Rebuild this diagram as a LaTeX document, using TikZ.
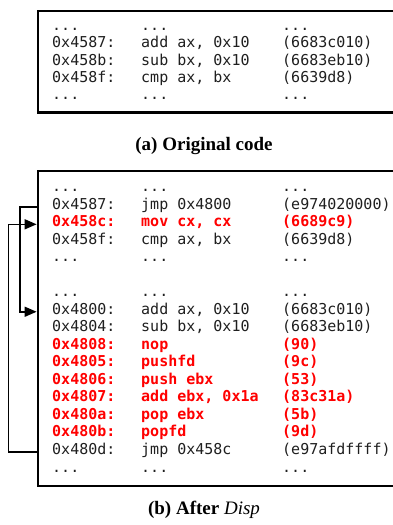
\documentclass[tikz,border=0pt]{standalone}
\usepackage{fontspec}
\setmainfont{Liberation Serif}
\setmonofont{DejaVu Sans Mono}
\usetikzlibrary{arrows.meta}

\tikzset{
    asm/.style={anchor=base west,inner sep=0pt,text=black!88,font=\fontsize{15}{17}\selectfont\ttfamily},
    patch/.style={asm,text=red,font=\fontsize{15}{17}\selectfont\ttfamily\bfseries},
    frame/.style={line width=2.2pt},
    jump/.style={line width=1.6pt,shorten >=1.1pt,-{Triangle[length=12pt,width=10pt]}},
    subcap/.style={anchor=base,inner sep=0pt,font=\fontsize{19}{21}\selectfont\bfseries}
}

\begin{document}
\begin{tikzpicture}[x=1pt,y=-1pt]
        \useasboundingbox (0,0) rectangle (393,525);
        % (a) original code
        \draw[frame] (400,10.7) -- (38,10.7) -- (38,112.5) -- (400,112.5);
        \foreach \n/\y/\ad/\op/\hx in {
            a0/30.5/{...}/{...}/{...},
            a1/47.75/{0x4587:}/{add ax, 0x10}/{(6683c010)},
            a2/65/{0x458b:}/{sub bx, 0x10}/{(6683eb10)},
            a3/82.25/{0x458f:}/{cmp ax, bx}/{(6639d8)},
            a4/99.5/{...}/{...}/{...}}
        {
            \node[asm] (\n) at (52,\y) {\ad};
            \node[asm] (\n op) at (141,\y) {\op};
            \node[asm] (\n hx) at (282,\y) {\hx};
        }
        \node[subcap] (capa) at (204,150) {(a) Original code};

        % (b) after Disp
        \draw[frame] (400,170.7) -- (37.7,170.7) -- (37.7,485.7) -- (400,485.7);
        \coordinate (edgeb) at (37.7,0);
        \foreach \n/\y/\ad/\op/\hx in {
            b0/191.5/{...}/{...}/{...},
            b1/209.05/{0x4587:}/{jmp 0x4800}/{(e974020000)},
            b3/244.15/{0x458f:}/{cmp ax, bx}/{(6639d8)},
            b4/261.7/{...}/{...}/{...},
            b5/296.5/{...}/{...}/{...},
            b6/314.05/{0x4800:}/{add ax, 0x10}/{(6683c010)},
            b7/331.6/{0x4804:}/{sub bx, 0x10}/{(6683eb10)},
            b14/454.45/{0x480d:}/{jmp 0x458c}/{(e97afdffff)},
            b15/472/{...}/{...}/{...}}
        {
            \node[asm] (\n) at (52,\y) {\ad};
            \node[asm] (\n op) at (141,\y) {\op};
            \node[asm] (\n hx) at (282,\y) {\hx};
        }
        % inserted / changed bytes
        \foreach \n/\y/\ad/\op/\hx in {
            b2/226.6/{0x458c:}/{mov cx, cx}/{(6689c9)},
            b8/349.15/{0x4808:}/{nop}/{(90)},
            b9/366.7/{0x4805:}/{pushfd}/{(9c)},
            b10/384.25/{0x4806:}/{push ebx}/{(53)},
            b11/401.8/{0x4807:}/{add ebx, 0x1a}/{(83c31a)},
            b12/419.35/{0x480a:}/{pop ebx}/{(5b)},
            b13/436.9/{0x480b:}/{popfd}/{(9d)}}
        {
            \node[patch] (\n) at (52,\y) {\ad};
            \node[patch] (\n op) at (141,\y) {\op};
            \node[patch] (\n hx) at (282,\y) {\hx};
        }
        \draw[jump] (edgeb |- b1.mid) -- ++(-17.7,0) |- (edgeb |- b6.mid);
        \draw[jump] (edgeb |- b14.mid) -- ++(-29.4,0) |- (edgeb |- b2.mid);
        \node[subcap] (capb) at (204,514) {(b) After \textit{\mdseries Disp}};
\end{tikzpicture}
\end{document}
